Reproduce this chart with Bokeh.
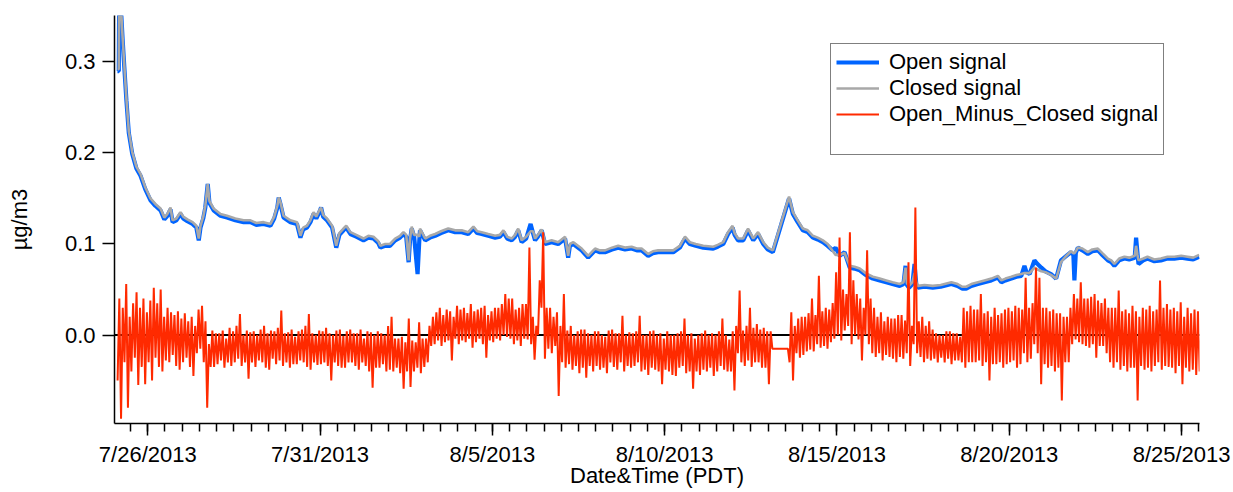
import numpy as np
from bokeh.plotting import figure
from bokeh.models import Range1d, FixedTicker, Span, Legend, LegendItem, NumeralTickFormatter
from bokeh.embed import file_html
from bokeh.resources import INLINE

# time axis: days since 7/25/2013 00:00 PDT
sig_t = [
    0.12, 0.16, 0.17, 0.22, 0.27, 0.32, 0.38, 0.45, 0.55, 0.67,
    0.79, 0.93, 1.08, 1.22, 1.37, 1.48, 1.57, 1.66, 1.72, 1.83,
    1.95, 2.03, 2.15, 2.30, 2.41, 2.48, 2.53, 2.61, 2.67, 2.74,
    2.79, 2.91, 3.11, 3.30, 3.54, 3.78, 3.98, 4.15, 4.36, 4.56,
    4.67, 4.76, 4.80, 4.85, 4.94, 5.14, 5.33, 5.43, 5.51, 5.62,
    5.72, 5.81, 5.89, 5.98, 6.03, 6.09, 6.20, 6.35, 6.47, 6.56,
    6.68, 6.76, 6.88, 7.05, 7.26, 7.40, 7.55, 7.69, 7.75, 7.89,
    8.03, 8.18, 8.32, 8.42, 8.50, 8.57, 8.61, 8.66, 8.73, 8.83,
    8.88, 8.90, 9.05, 9.19, 9.34, 9.51, 9.72, 9.92, 10.11, 10.30,
    10.45, 10.56, 10.69, 10.88, 11.08, 11.22, 11.32, 11.43, 11.56, 11.66,
    11.75, 11.85, 11.98, 12.11, 12.18, 12.24, 12.32, 12.43, 12.53, 12.72,
    12.91, 13.11, 13.20, 13.25, 13.35, 13.59, 13.78, 13.98, 14.12, 14.27,
    14.47, 14.65, 14.85, 15.04, 15.19, 15.33, 15.52, 15.66, 15.81, 16.01,
    16.25, 16.44, 16.59, 16.73, 16.90, 17.12, 17.41, 17.54, 17.70, 17.84,
    17.97, 18.03, 18.13, 18.28, 18.42, 18.50, 18.57, 18.71, 18.86, 18.99,
    19.14, 19.61, 19.72, 19.86, 20.01, 20.15, 20.30, 20.44, 20.59, 20.73,
    20.88, 20.96, 21.08, 21.22, 21.37, 21.51, 21.66, 21.83, 22.04, 22.24,
    22.43, 22.61, 22.82, 22.93, 22.99, 23.03, 23.09, 23.19, 23.25, 23.30,
    23.35, 23.54, 23.78, 24.01, 24.32, 24.50, 24.64, 24.75, 24.90, 25.09,
    25.28, 25.48, 25.67, 25.77, 25.89, 26.06, 26.21, 26.35, 26.44, 26.50,
    26.59, 26.73, 26.82, 26.93, 27.05, 27.21, 27.36, 27.50, 27.63, 27.79,
    27.86, 27.89, 27.93, 27.99, 28.12, 28.28, 28.41, 28.57, 28.70, 28.86,
    28.96, 29.05, 29.19, 29.34, 29.48, 29.64, 29.68, 29.72, 29.75, 29.89,
    30.01, 30.21, 30.40, 30.59, 30.79, 30.99, 31.17, 31.34, 31.51,
]

open_sig = [
    0.290, 0.290, 0.360, 0.360, 0.325, 0.294, 0.258, 0.222, 0.199, 0.183,
    0.175, 0.160, 0.148, 0.142, 0.137, 0.127, 0.131, 0.138, 0.124, 0.126,
    0.133, 0.128, 0.125, 0.122, 0.118, 0.104, 0.118, 0.128, 0.140, 0.166,
    0.145, 0.137, 0.131, 0.129, 0.126, 0.124, 0.124, 0.121, 0.122, 0.120,
    0.128, 0.140, 0.151, 0.144, 0.129, 0.124, 0.122, 0.107, 0.116, 0.118,
    0.124, 0.133, 0.128, 0.135, 0.140, 0.130, 0.126, 0.118, 0.096, 0.110,
    0.115, 0.118, 0.111, 0.108, 0.104, 0.107, 0.106, 0.101, 0.096, 0.098,
    0.098, 0.104, 0.107, 0.111, 0.108, 0.080, 0.104, 0.117, 0.108, 0.067,
    0.104, 0.115, 0.104, 0.107, 0.109, 0.112, 0.115, 0.113, 0.113, 0.111,
    0.117, 0.112, 0.111, 0.109, 0.107, 0.108, 0.113, 0.106, 0.104, 0.108,
    0.115, 0.102, 0.106, 0.122, 0.112, 0.104, 0.108, 0.115, 0.100, 0.102,
    0.100, 0.106, 0.085, 0.098, 0.100, 0.093, 0.085, 0.093, 0.091, 0.091,
    0.094, 0.096, 0.094, 0.095, 0.093, 0.093, 0.087, 0.090, 0.091, 0.091,
    0.091, 0.096, 0.106, 0.100, 0.098, 0.096, 0.095, 0.097, 0.100, 0.111,
    0.118, 0.110, 0.104, 0.104, 0.115, 0.109, 0.104, 0.111, 0.100, 0.094,
    0.091, 0.150, 0.133, 0.124, 0.115, 0.113, 0.107, 0.105, 0.102, 0.098,
    0.093, 0.096, 0.087, 0.091, 0.074, 0.073, 0.071, 0.066, 0.062, 0.060,
    0.058, 0.056, 0.054, 0.056, 0.076, 0.055, 0.052, 0.056, 0.078, 0.056,
    0.052, 0.053, 0.052, 0.053, 0.056, 0.054, 0.051, 0.051, 0.054, 0.056,
    0.058, 0.060, 0.063, 0.058, 0.060, 0.062, 0.064, 0.065, 0.076, 0.069,
    0.067, 0.082, 0.078, 0.074, 0.070, 0.067, 0.062, 0.082, 0.086, 0.091,
    0.088, 0.060, 0.090, 0.096, 0.093, 0.089, 0.092, 0.093, 0.088, 0.082,
    0.080, 0.076, 0.082, 0.084, 0.083, 0.085, 0.107, 0.090, 0.078, 0.082,
    0.084, 0.081, 0.082, 0.084, 0.084, 0.085, 0.084, 0.083, 0.086,
]

closed_sig = [
    0.292, 0.292, 0.362, 0.362, 0.327, 0.296, 0.260, 0.224, 0.201, 0.185,
    0.177, 0.162, 0.150, 0.144, 0.139, 0.129, 0.133, 0.140, 0.126, 0.128,
    0.135, 0.130, 0.127, 0.124, 0.120, 0.106, 0.120, 0.130, 0.142, 0.166,
    0.147, 0.139, 0.133, 0.131, 0.128, 0.126, 0.126, 0.123, 0.124, 0.122,
    0.130, 0.142, 0.151, 0.146, 0.131, 0.126, 0.124, 0.109, 0.118, 0.120,
    0.126, 0.135, 0.130, 0.137, 0.140, 0.132, 0.128, 0.120, 0.098, 0.112,
    0.117, 0.120, 0.113, 0.110, 0.106, 0.109, 0.108, 0.103, 0.098, 0.100,
    0.100, 0.106, 0.109, 0.113, 0.110, 0.082, 0.106, 0.119, 0.110, 0.110,
    0.108, 0.117, 0.106, 0.109, 0.111, 0.114, 0.117, 0.115, 0.115, 0.113,
    0.119, 0.114, 0.113, 0.111, 0.109, 0.110, 0.115, 0.108, 0.106, 0.110,
    0.117, 0.104, 0.108, 0.114, 0.114, 0.106, 0.110, 0.116, 0.102, 0.104,
    0.102, 0.108, 0.087, 0.100, 0.102, 0.095, 0.087, 0.095, 0.093, 0.093,
    0.096, 0.098, 0.096, 0.097, 0.095, 0.095, 0.089, 0.092, 0.093, 0.093,
    0.093, 0.098, 0.108, 0.102, 0.100, 0.098, 0.097, 0.099, 0.102, 0.113,
    0.120, 0.112, 0.106, 0.106, 0.117, 0.111, 0.106, 0.113, 0.102, 0.096,
    0.093, 0.152, 0.135, 0.126, 0.117, 0.115, 0.109, 0.107, 0.104, 0.100,
    0.092, 0.088, 0.088, 0.090, 0.076, 0.075, 0.073, 0.068, 0.064, 0.062,
    0.060, 0.058, 0.056, 0.058, 0.074, 0.057, 0.054, 0.058, 0.068, 0.058,
    0.054, 0.055, 0.054, 0.055, 0.058, 0.056, 0.053, 0.053, 0.056, 0.058,
    0.060, 0.062, 0.065, 0.060, 0.062, 0.064, 0.066, 0.067, 0.068, 0.068,
    0.068, 0.074, 0.072, 0.070, 0.069, 0.066, 0.062, 0.080, 0.086, 0.092,
    0.090, 0.090, 0.092, 0.096, 0.095, 0.091, 0.094, 0.095, 0.090, 0.084,
    0.082, 0.078, 0.084, 0.086, 0.085, 0.087, 0.098, 0.088, 0.082, 0.084,
    0.086, 0.083, 0.084, 0.086, 0.086, 0.087, 0.086, 0.085, 0.088,
]

# Open minus closed: highest and lowest value in each 0.1-day bin,
# bins centred at day 0.15, 0.25, ... 31.55
diff_t0 = 0.15
diff_dt = 0.1
diff_hi = [
    0.040, 0.030, 0.056, 0.020, 0.035, 0.047, 0.030, 0.040, 0.025,
    0.038, 0.052, 0.035, 0.050, 0.020, 0.030, 0.025, 0.022, 0.026, 0.018,
    0.024, 0.015, 0.020, 0.010, 0.028, 0.032, 0.015, -0.010, 0.005, 0.002,
    0.002, 0.005, -0.004, 0.008, 0.004, 0.010, 0.023, 0.000, 0.005, 0.003,
    0.004, 0.000, 0.006, 0.010, 0.002, 0.005, 0.004, 0.008, 0.027, 0.002,
    0.003, 0.006, -0.002, 0.004, 0.006, 0.010, 0.023, 0.002, 0.000, 0.005,
    0.004, 0.008, 0.002, 0.000, 0.005, 0.006, -0.001, 0.004, 0.006, 0.002,
    0.002, 0.006, -0.004, 0.004, 0.003, 0.000, 0.004, 0.002, 0.000, 0.010,
    0.020, -0.004, -0.004, -0.002, -0.008, 0.018, -0.006, -0.008, 0.014, -0.004,
    -0.004, 0.010, 0.020, 0.025, 0.030, 0.022, 0.028, 0.026, 0.020, 0.032,
    0.028, 0.030, 0.024, 0.034, 0.026, 0.028, 0.030, 0.032, 0.022, 0.026,
    0.030, 0.030, 0.034, 0.045, 0.040, 0.040, 0.028, 0.030, 0.034, 0.034,
    0.096, 0.020, 0.010, 0.060, 0.113, 0.030, 0.030, 0.020, 0.025, 0.010,
    0.045, 0.005, 0.010, 0.000, 0.004, 0.006, 0.006, 0.002, 0.000, 0.004,
    0.004, 0.000, -0.002, 0.005, 0.006, 0.002, 0.002, 0.021, 0.000, 0.003,
    0.002, 0.004, 0.021, 0.000, 0.000, 0.004, 0.005, 0.000, 0.002, -0.004,
    0.004, 0.000, 0.000, 0.002, 0.004, 0.018, 0.000, 0.002, -0.004, 0.000,
    0.002, 0.005, 0.000, 0.002, 0.000, 0.004, 0.018, 0.000, -0.005, 0.004,
    0.010, 0.049, 0.005, 0.010, 0.030, 0.008, 0.012, 0.006, 0.008, 0.004,
    0.004, -0.015, -0.015, -0.015, -0.015, -0.015, 0.025, 0.010, 0.018, 0.020,
    0.020, 0.024, 0.040, 0.022, 0.065, 0.026, 0.030, 0.028, 0.035, 0.069,
    0.107, 0.050, 0.045, 0.113, 0.060, 0.045, 0.040, 0.030, 0.093, 0.040,
    0.030, 0.020, 0.025, 0.015, 0.020, 0.018, 0.018, 0.022, 0.022, 0.016,
    0.080, 0.010, 0.140, 0.015, 0.020, 0.010, 0.015, 0.006, 0.002, 0.000,
    0.000, 0.004, 0.004, 0.002, 0.002, -0.002, 0.030, 0.026, 0.032, 0.028,
    0.028, 0.045, 0.024, 0.026, 0.020, 0.030, 0.022, 0.024, 0.028, 0.030,
    0.026, 0.032, 0.030, 0.028, 0.063, 0.030, 0.035, 0.074, 0.063, 0.030,
    0.030, 0.026, 0.028, 0.024, 0.024, 0.020, 0.020, 0.030, 0.045, 0.040,
    0.058, 0.040, 0.040, 0.042, 0.045, 0.038, 0.035, 0.040, 0.030, 0.030,
    0.030, 0.049, 0.026, 0.028, 0.024, 0.032, 0.026, 0.020, 0.030, 0.028,
    0.032, 0.026, 0.028, 0.060, 0.030, 0.034, 0.028, 0.030, 0.026, 0.036,
    0.020, 0.030, 0.024, 0.028, 0.026, 0.010,
]
diff_lo = [
    -0.050, -0.092, -0.030, -0.080, -0.040, -0.025, -0.055, -0.035, -0.054,
    -0.030, -0.050, -0.025, -0.035, -0.040, -0.028, -0.030, -0.022, -0.034, -0.038,
    -0.030, -0.025, -0.035, -0.045, -0.020, -0.015, -0.030, -0.080, -0.035, -0.035,
    -0.032, -0.028, -0.036, -0.030, -0.034, -0.030, -0.026, -0.034, -0.030, -0.048,
    -0.030, -0.035, -0.028, -0.030, -0.036, -0.038, -0.026, -0.032, -0.028, -0.034,
    -0.030, -0.036, -0.032, -0.032, -0.028, -0.030, -0.035, -0.038, -0.030, -0.033,
    -0.032, -0.030, -0.034, -0.050, -0.030, -0.034, -0.036, -0.036, -0.030, -0.030,
    -0.034, -0.038, -0.030, -0.034, -0.040, -0.058, -0.036, -0.036, -0.032, -0.040,
    -0.038, -0.040, -0.036, -0.042, -0.059, -0.040, -0.057, -0.040, -0.036, -0.042,
    -0.035, -0.030, -0.012, -0.010, -0.006, -0.012, -0.008, -0.006, -0.028, -0.004,
    -0.010, -0.006, -0.008, -0.004, -0.014, -0.008, -0.004, -0.010, -0.025, -0.006,
    -0.008, -0.004, -0.006, 0.000, -0.002, -0.004, -0.010, -0.006, -0.012, -0.004,
    -0.005, -0.010, -0.027, 0.000, 0.030, -0.026, -0.015, -0.020, -0.012, -0.067,
    -0.030, -0.036, -0.032, -0.038, -0.034, -0.042, -0.036, -0.047, -0.034, -0.040,
    -0.034, -0.038, -0.036, -0.042, -0.030, -0.035, -0.038, -0.030, -0.040, -0.034,
    -0.036, -0.034, -0.030, -0.040, -0.038, -0.044, -0.036, -0.038, -0.040, -0.054,
    -0.038, -0.040, -0.044, -0.045, -0.036, -0.034, -0.042, -0.040, -0.059, -0.040,
    -0.044, -0.038, -0.040, -0.036, -0.045, -0.040, -0.034, -0.038, -0.040, -0.040,
    -0.061, -0.020, -0.030, -0.034, -0.028, -0.035, -0.030, -0.030, -0.036, -0.036,
    -0.054, -0.015, -0.015, -0.015, -0.015, -0.015, -0.030, -0.050, -0.020, -0.025,
    -0.022, -0.018, -0.016, -0.018, -0.010, -0.014, -0.012, -0.015, -0.008, -0.004,
    0.000, -0.006, 0.005, 0.010, -0.010, 0.000, -0.005, -0.028, 0.000, -0.010,
    -0.020, -0.024, -0.020, -0.028, -0.022, -0.024, -0.026, -0.030, -0.024, -0.026,
    -0.020, -0.034, -0.010, -0.020, -0.024, -0.030, -0.026, -0.028, -0.026, -0.030,
    -0.025, -0.030, -0.026, -0.032, -0.028, -0.028, -0.030, -0.036, -0.030, -0.030,
    -0.030, -0.028, -0.034, -0.030, -0.050, -0.032, -0.032, -0.030, -0.036, -0.032,
    -0.030, -0.028, -0.036, -0.032, -0.020, -0.030, -0.026, -0.010, -0.020, -0.054,
    -0.032, -0.036, -0.034, -0.040, -0.036, -0.072, -0.030, -0.030, -0.010, -0.005,
    -0.008, -0.010, -0.012, -0.014, -0.010, -0.025, -0.012, -0.012, -0.020, -0.030,
    -0.036, -0.030, -0.038, -0.034, -0.040, -0.036, -0.036, -0.072, -0.034, -0.038,
    -0.036, -0.040, -0.034, -0.030, -0.038, -0.034, -0.035, -0.036, -0.042, -0.034,
    -0.054, -0.036, -0.040, -0.038, -0.044, -0.040,
]

# trace through each bin: its low then its high
diff_t, diff_sig = [], []
for i, (lo, hi) in enumerate(zip(diff_lo, diff_hi)):
    tc = diff_t0 + i * diff_dt
    diff_t += [tc - diff_dt / 4, tc + diff_dt / 4]
    diff_sig += [lo, hi]

tick_days = [1, 6, 11, 16, 21, 26, 31]
tick_labels = ["7/26/2013", "7/31/2013", "8/5/2013", "8/10/2013",
               "8/15/2013", "8/20/2013", "8/25/2013"]
minor_days = [0.5 * k for k in range(1, 64)]
y_ticks = [0.0, 0.1, 0.2, 0.3]

FONT = "Liberation Sans"
FS = "22px"

p = figure(width=1233, height=492,
           x_range=Range1d(0.035, 31.52), y_range=Range1d(-0.0972, 0.351),
           output_backend="svg", toolbar_location=None,
           min_border_left=114, min_border_right=34, min_border_top=15,
           min_border_bottom=69)
p.outline_line_color = None
p.xgrid.visible = False
p.ygrid.visible = False
p.background_fill_color = "white"
p.border_fill_color = "white"

zero = Span(location=0, dimension="width", line_color="black",
            line_width=1.8, level="underlay")
p.add_layout(zero)

r_open = p.line(sig_t, open_sig, line_color="#0064FF", line_width=4.2)
r_closed = p.line(sig_t, closed_sig, line_color="#A8A8A8", line_width=2.6)
r_diff = p.line(diff_t, diff_sig, line_color="#FF2A00", line_width=2.0)
r_blank = p.line([], [], line_alpha=0)

# axes
xa = p.xaxis[0]
xa.ticker = FixedTicker(ticks=tick_days, minor_ticks=minor_days)
xa.major_label_overrides = {d: lab for d, lab in zip(tick_days, tick_labels)}
xa.axis_label = "Date&Time (PDT)"
ya = p.yaxis[0]
ya.ticker = FixedTicker(ticks=y_ticks, minor_ticks=[])
ya.formatter = NumeralTickFormatter(format="0.0")
ya.axis_label = "\u00b5g/m3"

for ax in (xa, ya):
    ax.axis_line_color = "black"
    ax.axis_line_width = 1.5
    ax.major_tick_line_color = "black"
    ax.major_tick_line_width = 1.5
    ax.minor_tick_line_color = "black"
    ax.minor_tick_line_width = 1.5
    ax.major_tick_in = 0
    ax.minor_tick_in = 0
    ax.major_tick_out = 12
    ax.major_label_text_font = FONT
    ax.major_label_text_font_size = FS
    ax.major_label_text_color = "black"
    ax.axis_label_text_font = FONT
    ax.axis_label_text_font_size = FS
    ax.axis_label_text_font_style = "normal"
    ax.axis_label_text_color = "black"

xa.minor_tick_out = 8
xa.major_label_standoff = 6
xa.axis_label_standoff = -7
ya.minor_tick_out = 0
ya.major_label_standoff = 7
ya.axis_label_standoff = 30

legend = Legend(items=[
    LegendItem(label="Open signal", renderers=[r_open]),
    LegendItem(label="Closed signal", renderers=[r_closed]),
    LegendItem(label="Open_Minus_Closed signal", renderers=[r_diff]),
    LegendItem(label=" ", renderers=[r_blank]),
], location=(716, 268))
legend.border_line_color = "black"
legend.border_line_width = 1.5
legend.background_fill_color = "white"
legend.background_fill_alpha = 1.0
legend.padding = 5
legend.spacing = -2
legend.margin = 0
legend.label_standoff = 10
legend.glyph_width = 43
legend.glyph_height = 20
legend.label_height = 22
legend.label_text_font = FONT
legend.label_text_font_size = FS
legend.label_text_color = "black"
p.add_layout(legend)

open("out.html", "w").write(file_html(p, INLINE))
